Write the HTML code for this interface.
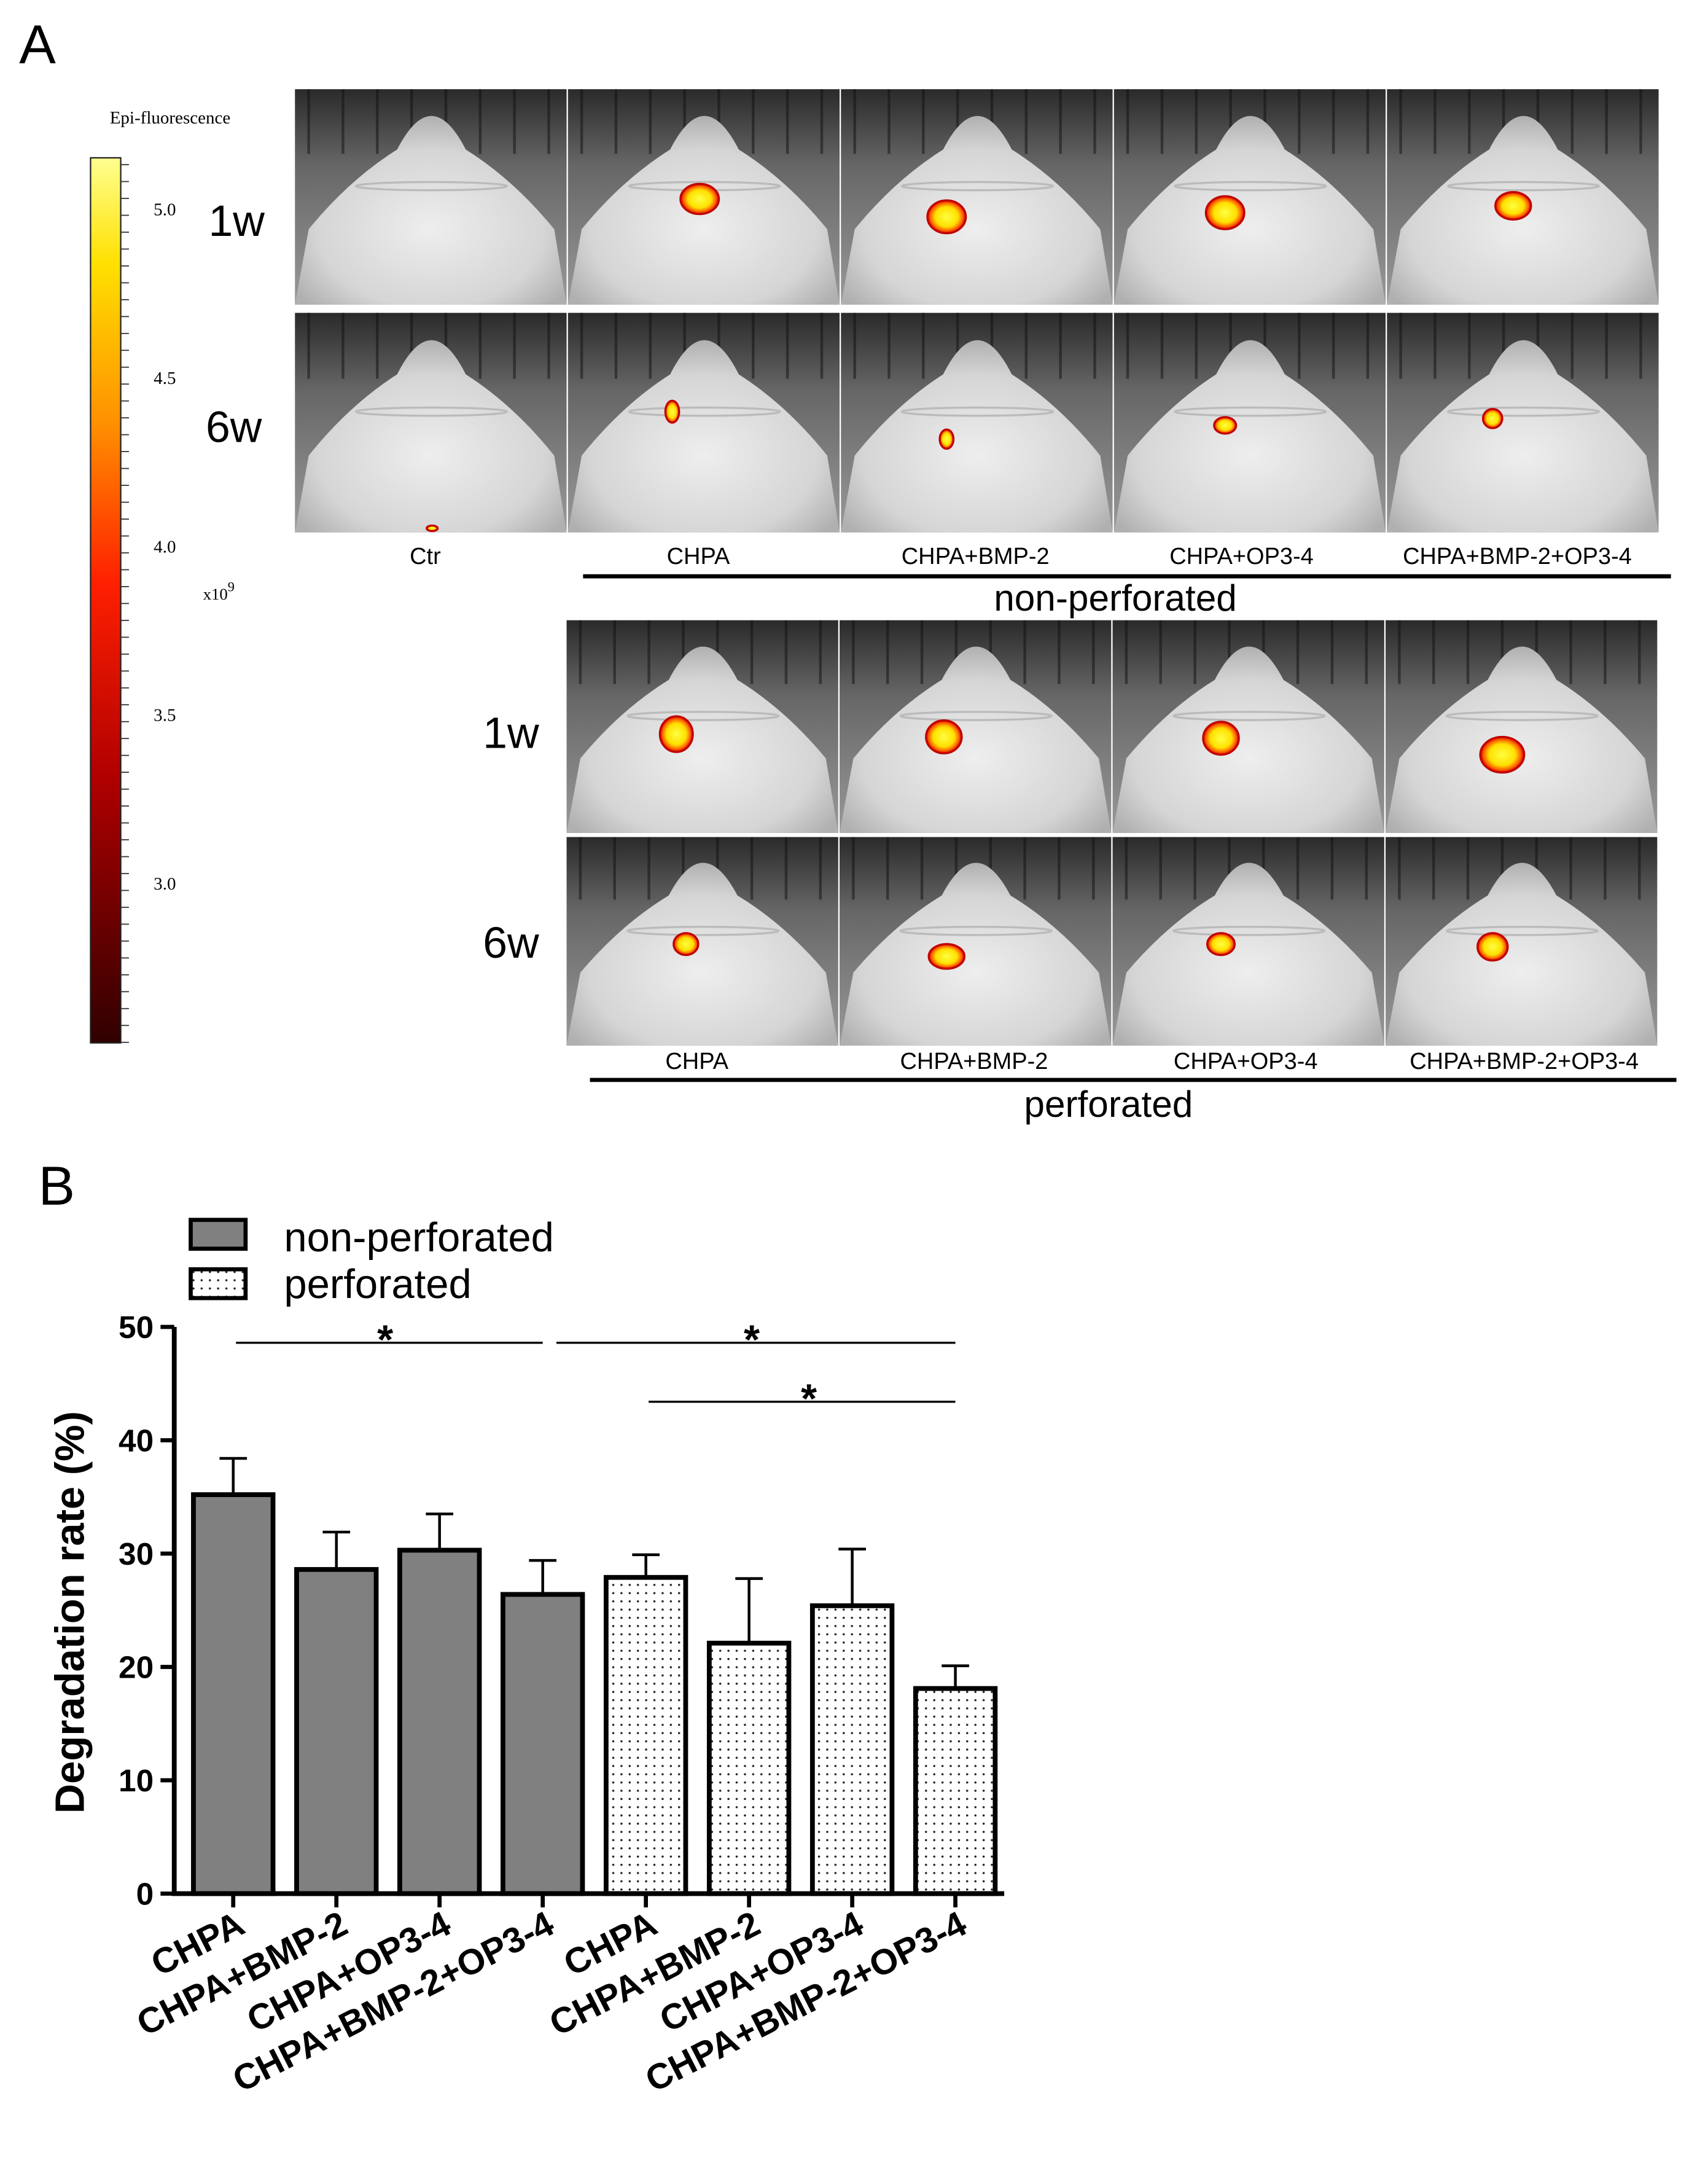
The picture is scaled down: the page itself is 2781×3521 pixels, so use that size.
<!DOCTYPE html>
<html><head><meta charset="utf-8"><style>
html,body{margin:0;padding:0;background:#fff;}
svg{display:block;font-family:"Liberation Sans",Arial,sans-serif;}
</style></head><body>
<svg id="fig" width="2781" height="3521" viewBox="0 0 1245 1576.3" xmlns="http://www.w3.org/2000/svg">
<defs>
<linearGradient id="cbar" x1="0" y1="0" x2="0" y2="1">
<stop offset="0" stop-color="#ffff90"/><stop offset="0.12" stop-color="#ffe000"/><stop offset="0.3" stop-color="#ff9000"/><stop offset="0.48" stop-color="#ff2000"/><stop offset="0.7" stop-color="#b00000"/><stop offset="1" stop-color="#300000"/>
</linearGradient>
<linearGradient id="bg" x1="0" y1="0" x2="0" y2="1">
<stop offset="0" stop-color="#2a2a2a"/><stop offset="0.35" stop-color="#666"/><stop offset="1" stop-color="#999"/>
</linearGradient>
<radialGradient id="mouse" cx="0.5" cy="0.6" r="0.6">
<stop offset="0" stop-color="#eeeeee"/><stop offset="0.7" stop-color="#d5d5d5"/><stop offset="1" stop-color="#b0b0b0"/>
</radialGradient>
<radialGradient id="blob" cx="0.5" cy="0.5" r="0.5">
<stop offset="0" stop-color="#ffff40"/><stop offset="0.6" stop-color="#ffe000"/><stop offset="0.85" stop-color="#ff6000"/><stop offset="1" stop-color="#d00000"/>
</radialGradient>
<pattern id="dots" width="6" height="6" patternUnits="userSpaceOnUse"><rect width="6" height="6" fill="#fff"/><circle cx="3" cy="3" r="0.8" fill="#222"/></pattern>
</defs>
<text x="14" y="46" font-size="40">A</text>
<text x="80" y="90" font-size="13" font-family="Liberation Serif,serif">Epi-fluorescence</text>
<rect x="66" y="115" width="22" height="645" fill="url(#cbar)" stroke="#222" stroke-width="1"/>
<g id="cbticks"></g>
<text x="148" y="437" font-size="12" font-family="Liberation Serif,serif">x10<tspan dy="-6" font-size="10">9</tspan></text>
<g id="panels"></g>
<text x="152" y="172" font-size="32">1w</text>
<text x="150" y="322" font-size="32">6w</text>
<text x="352" y="545" font-size="32">1w</text>
<text x="352" y="698" font-size="32">6w</text>
<g font-size="17" text-anchor="middle">
<text x="310" y="411">Ctr</text>
<text x="509" y="411">CHPA</text>
<text x="711" y="411">CHPA+BMP-2</text>
<text x="905" y="411">CHPA+OP3-4</text>
<text x="1106" y="411">CHPA+BMP-2+OP3-4</text>
<text x="508" y="779">CHPA</text>
<text x="710" y="779">CHPA+BMP-2</text>
<text x="908" y="779">CHPA+OP3-4</text>
<text x="1111" y="779">CHPA+BMP-2+OP3-4</text>
</g>
<line x1="425" y1="420" x2="1218" y2="420" stroke="#000" stroke-width="3"/>
<text x="813" y="445" font-size="27" text-anchor="middle">non-perforated</text>
<line x1="430" y1="787" x2="1222" y2="787" stroke="#000" stroke-width="3"/>
<text x="808" y="814" font-size="27" text-anchor="middle">perforated</text>

<text x="28" y="878" font-size="40">B</text>
<rect x="139" y="889" width="40" height="21" fill="#808080" stroke="#000" stroke-width="3"/>
<text x="207" y="912" font-size="30">non-perforated</text>
<rect x="139" y="925" width="40" height="21" fill="url(#dots)" stroke="#000" stroke-width="3"/>
<text x="207" y="946" font-size="30">perforated</text>
<g id="chart"></g>
<text transform="translate(61,1175) rotate(-90)" font-size="30" font-weight="bold" text-anchor="middle">Degradation rate (%)</text>
</svg>
<script>
const categories=["CHPA","CHPA+BMP-2","CHPA+OP3-4","CHPA+BMP-2+OP3-4","CHPA","CHPA+BMP-2","CHPA+OP3-4","CHPA+BMP-2+OP3-4"];
const groups=["non","non","non","non","perf","perf","perf","perf"];
const means=[35.2,28.6,30.3,26.4,27.9,22.1,25.4,18.1];
const errors=[3.2,3.3,3.2,3.0,2.0,5.7,5.0,2.0];
const yTicks=[0,10,20,30,40,50];
const sigPairs=[[0,3,48.6],[3,7,48.6],[4,7,43.4]];
const cbTicks=["5.0","4.5","4.0","3.5","3.0"];
const cbVals=[5.0,4.5,4.0,3.5,3.0];

const NS="http://www.w3.org/2000/svg";
function mk(tag,attrs,parent){const e=document.createElementNS(NS,tag);for(const k in attrs)e.setAttribute(k,attrs[k]);parent.appendChild(e);return e;}

const cb=document.getElementById('cbticks');
const cbY=v=>153+(5.0-v)*245.6;
for(let i=0;i<cbVals.length;i++){
  const t=mk('text',{x:112,y:cbY(cbVals[i])+4,'font-size':13,'font-family':'Liberation Serif,serif'},cb);
  t.textContent=cbTicks[i];
  
  
}
for(let y=120;y<760;y+=12.3){mk('line',{x1:88,y1:y,x2:94,y2:y,stroke:'#333','stroke-width':0.8},cb);}

const panels=document.getElementById('panels');
const rows=[
 {x0:215,y:65,h:157,w:199,n:5,blobs:[null,[510,145,14,11],[690,158,14,12],[893,155,14,12],[1103,150,13,10]]},
 {x0:215,y:228,h:160,w:199,n:5,blobs:[[315,385,4,2],[490,300,5,8],[690,320,5,7],[893,310,8,6],[1088,305,7,7]]},
 {x0:413,y:452,h:155,w:199,n:4,blobs:[[493,535,12,13],[688,537,13,12],[890,538,13,12],[1095,550,16,13]]},
 {x0:413,y:610,h:152,w:199,n:4,blobs:[[500,688,9,8],[690,697,13,9],[890,688,10,8],[1088,690,11,10]]}
];
rows.forEach((r)=>{
  for(let c=0;c<r.n;c++){
    const x=r.x0+c*r.w;
    const g=mk('g',{},panels);
    
    
    mk('rect',{x:x,y:r.y,width:r.w-1,height:r.h,fill:'url(#bg)'},g);
    for(let s=0;s<8;s++) mk('line',{x1:x+10+s*25,y1:r.y,x2:x+10+s*25,y2:r.y+r.h*0.3,stroke:'#111','stroke-width':2,opacity:0.5},g);
    const cx=x+r.w/2;
    mk('path',{d:`M${x} ${r.y+r.h} L${x+10} ${r.y+r.h*0.65} Q${cx-60} ${r.y+r.h*0.42} ${cx-25} ${r.y+r.h*0.28} Q${cx} ${r.y-5} ${cx+25} ${r.y+r.h*0.28} Q${cx+60} ${r.y+r.h*0.42} ${x+r.w-10} ${r.y+r.h*0.65} L${x+r.w-1} ${r.y+r.h} Z`,fill:'url(#mouse)'},g);
    mk('ellipse',{cx:cx,cy:r.y+r.h*0.45,rx:55,ry:3,fill:'none',stroke:'#bbb','stroke-width':1.5},g);
    const b=r.blobs[c];
    if(b) mk('ellipse',{cx:b[0],cy:b[1],rx:b[2],ry:b[3],fill:'url(#blob)',stroke:'#c00000','stroke-width':1.5},g);
  }
});

const ch=document.getElementById('chart');
const yS=v=>1380-v*8.26;
const xC=i=>170+i*75.2;
const bw=58;
for(let i=0;i<means.length;i++){
  const top=yS(means[i]+errors[i]);
  const el=mk('line',{x1:xC(i),y1:yS(means[i]),x2:xC(i),y2:top,stroke:'#000','stroke-width':2},ch);
  
  
  mk('line',{x1:xC(i)-10,y1:top,x2:xC(i)+10,y2:top,stroke:'#000','stroke-width':2},ch);
  const r=mk('rect',{x:xC(i)-bw/2,y:yS(means[i]),width:bw,height:yS(0)-yS(means[i]),fill:groups[i]==='non'?'#808080':'url(#dots)',stroke:'#000','stroke-width':3.5},ch);
  
  
  mk('line',{x1:xC(i),y1:1380,x2:xC(i),y2:1390,stroke:'#000','stroke-width':3},ch);
  const t=mk('text',{transform:`translate(${xC(i)+10},${1408}) rotate(-27)`,'text-anchor':'end','font-size':26,'font-weight':'bold'},ch);
  t.textContent=categories[i];
  
  
}
const ax=mk('path',{d:`M127 ${yS(50)} L127 1380 L732 1380`,fill:'none',stroke:'#000','stroke-width':3.5},ch);


yTicks.forEach(v=>{
  mk('line',{x1:117,y1:yS(v),x2:127,y2:yS(v),stroke:'#000','stroke-width':3},ch);
  const t=mk('text',{x:112,y:yS(v)+8,'text-anchor':'end','font-size':23,'font-weight':'bold'},ch);
  t.textContent=v;
  
  
});
sigPairs.forEach((p,k)=>{
  const y=yS(p[2]);
  const x1=xC(p[0])+(k===1?10:2), x2=xC(p[1]);
  const l=mk('line',{x1:x1,y1:y,x2:x2,y2:y,stroke:'#000','stroke-width':1.5},ch);
  
  
  const s=mk('text',{x:(x1+x2)/2+(k===2?5:-3),y:y+8,'text-anchor':'middle','font-size':30,'font-weight':'bold'},ch);
  s.textContent='*';
  
  
});
</script>
</body></html>
